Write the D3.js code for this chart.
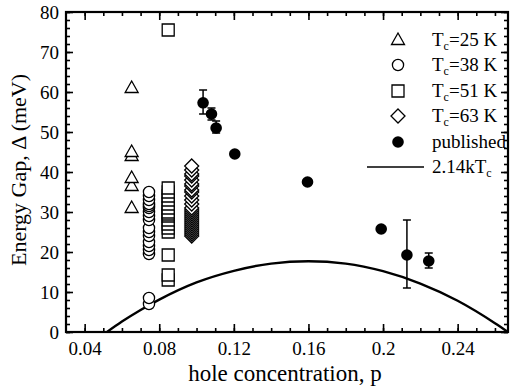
<!DOCTYPE html>
<html>
<head>
<meta charset="utf-8">
<script src="https://cdn.jsdelivr.net/npm/d3@7"></script>
<style>
  body { margin: 0; background: #fff; }
</style>
</head>
<body>
<div id="chart"></div>
<script>
// ---- data ----
const tc25P = 0.0652;
const tc25Gap = [61, 45, 44, 38.5, 36.5, 31];

const tc38P = 0.0745;
const tc38Gap = [35, 34, 33, 32, 31.5, 31, 30, 29, 28, 26, 25, 24, 22.5, 21.5, 20.5, 19.5, 8.5, 7];

const tc51P = 0.0848;
const tc51Gap = [75.5, 36, 35, 34, 33, 32, 31, 30, 29.5, 29, 28, 27, 26, 25, 19.25, 14.25, 13];

const tc63P = 0.0974;
const tc63Gap = [41.5, 40.5, 39.5, 39, 38, 37, 36.5, 35.5, 35, 34, 33, 32, 31, 30.5, 30, 29.5, 29, 28.5,
  28, 27.5, 27, 26.5, 26, 25.5, 25, 24.5, 24];

const pubP = [0.1035, 0.108, 0.1105, 0.1205, 0.1595, 0.199, 0.2128, 0.2245];
const pubGap = [57.3, 54.5, 51, 44.5, 37.5, 25.75, 19.25, 17.75];
const pubErrLo = [54.5, 53, 49.75, null, null, null, 11, 16];
const pubErrHi = [60.5, 56, 52.75, null, null, null, 28, 19.75];

// 2.14 kTc curve
const curveP = [0.052, 0.06, 0.07, 0.08, 0.1, 0.12, 0.14, 0.16, 0.18, 0.2, 0.22, 0.24, 0.26, 0.267];
const curveGap = [0, 2.6, 5.5, 8.1, 12.4, 15.3, 17.1, 17.7, 17.1, 15.2, 12.1, 7.8, 2.2, 0];

const xMajor = [0.04, 0.08, 0.12, 0.16, 0.2, 0.24];
const xTickLabels = ["0.04", "0.08", "0.12", "0.16", "0.2", "0.24"];
const xMinor = d3.range(4, 27).map((d) => d / 100);
const yMajor = [0, 10, 20, 30, 40, 50, 60, 70, 80];
const yMinor = d3.range(0, 81, 2);

const legendLabels = ["=25 K", "=38 K", "=51 K", "=63 K", "published", "2.14kT"];

// ---- layout ----
const W = 514, H = 388;
const margin = { top: 12, right: 6, bottom: 56, left: 66 };
const width = W - margin.left - margin.right;
const height = H - margin.top - margin.bottom;
const serif = '"Liberation Serif", "Times New Roman", serif';

const svg = d3.select("#chart").append("svg").attr("width", W).attr("height", H);
const g = svg.append("g").attr("transform", `translate(${margin.left},${margin.top})`);

const x = d3.scaleLinear().domain([0.03, 0.267]).range([0, width]);
const y = d3.scaleLinear().domain([0, 80]).range([height, 0]);

// axes (ticks pointing inward)
function styleAxis(sel) {
  sel.attr("font-family", serif);
  sel.select(".domain").remove();
  sel.selectAll("line").attr("stroke", "#000").attr("stroke-width", 1.6);
  sel.selectAll("text").attr("fill", "#000").style("font-family", serif).style("font-size", "19px");
}
g.append("g").attr("transform", `translate(0,${height})`)
  .call(d3.axisBottom(x).tickValues(xMinor).tickSize(-4).tickFormat("")).call(styleAxis);
g.append("g").attr("transform", `translate(0,${height})`)
  .call(d3.axisBottom(x).tickValues(xMajor).tickSize(-8).tickPadding(10)
    .tickFormat((d, i) => xTickLabels[i]))
  .call(styleAxis);
g.append("g").call(d3.axisTop(x).tickValues(xMinor).tickSize(-4).tickFormat("")).call(styleAxis);
g.append("g").call(d3.axisTop(x).tickValues(xMajor).tickSize(-8).tickFormat("")).call(styleAxis);

g.append("g").call(d3.axisLeft(y).tickValues(yMinor).tickSize(-4).tickFormat("")).call(styleAxis);
g.append("g").call(d3.axisLeft(y).tickValues(yMajor).tickSize(-7).tickPadding(7).tickFormat(d3.format("d")))
  .call(styleAxis);
g.append("g").attr("transform", `translate(${width},0)`)
  .call(d3.axisRight(y).tickValues(yMinor).tickSize(-4).tickFormat("")).call(styleAxis);
g.append("g").attr("transform", `translate(${width},0)`)
  .call(d3.axisRight(y).tickValues(yMajor).tickSize(-7).tickFormat("")).call(styleAxis);

g.append("rect").attr("width", width).attr("height", height)
  .attr("fill", "none").attr("stroke", "#000").attr("stroke-width", 2.2);

// curve
g.append("path")
  .datum(curveP.map((p, i) => [p, curveGap[i]]))
  .attr("fill", "none").attr("stroke", "#000").attr("stroke-width", 2.4)
  .attr("d", d3.line().curve(d3.curveMonotoneX).x((d) => x(d[0])).y((d) => y(d[1])));

// open-marker stacks: draw lowest first so upper markers sit on top
const triPath = "M0,-7L6.5,4.5L-6.5,4.5Z";
const sqPath = "M-6,-6H6V6H-6Z";
const diaPath = "M0,-7L7,0L0,7L-7,0Z";
const circPath = d3.symbol(d3.symbolCircle, Math.PI * 5.6 * 5.6)();

function openStack(p, vals, path) {
  g.append("g").selectAll("path")
    .data(vals.slice().sort((a, b) => a - b))
    .join("path")
    .attr("d", path)
    .attr("transform", (d) => `translate(${x(p)},${y(d)})`)
    .attr("fill", "#fff").attr("stroke", "#000").attr("stroke-width", 1.3);
}
openStack(tc25P, tc25Gap, triPath);
openStack(tc38P, tc38Gap, circPath);
openStack(tc51P, tc51Gap, sqPath);
openStack(tc63P, tc63Gap, diaPath);

// published points with error bars
const pub = pubP.map((p, i) => ({ p, v: pubGap[i], lo: pubErrLo[i], hi: pubErrHi[i] }));
const eb = g.append("g").attr("stroke", "#000").attr("stroke-width", 1.5);
pub.filter((d) => d.lo !== null).forEach((d) => {
  eb.append("line").attr("x1", x(d.p)).attr("x2", x(d.p)).attr("y1", y(d.lo)).attr("y2", y(d.hi));
  eb.append("line").attr("x1", x(d.p) - 4).attr("x2", x(d.p) + 4).attr("y1", y(d.lo)).attr("y2", y(d.lo));
  eb.append("line").attr("x1", x(d.p) - 4).attr("x2", x(d.p) + 4).attr("y1", y(d.hi)).attr("y2", y(d.hi));
});
g.append("g").selectAll("circle").data(pub).join("circle")
  .attr("cx", (d) => x(d.p)).attr("cy", (d) => y(d.v)).attr("r", 5.8).attr("fill", "#000");

// legend
const legRows = [40, 65, 91, 116, 142, 167];
const legSymX = 398, legTextX = 432;
const legShapes = [triPath, circPath, sqPath, diaPath];
legShapes.forEach((s, i) => {
  svg.append("path").attr("d", s).attr("transform", `translate(${legSymX},${legRows[i]})`)
    .attr("fill", "#fff").attr("stroke", "#000").attr("stroke-width", 1.3);
});
svg.append("circle").attr("cx", legSymX).attr("cy", legRows[4]).attr("r", 5.8).attr("fill", "#000");
svg.append("line").attr("x1", 367).attr("x2", 424).attr("y1", legRows[5]).attr("y2", legRows[5])
  .attr("stroke", "#000").attr("stroke-width", 1.5);

legendLabels.forEach((lab, i) => {
  const t = svg.append("text").attr("x", legTextX).attr("y", legRows[i] + 6)
    .attr("fill", "#000").style("font-family", serif).style("font-size", "19px");
  if (i < 4) {
    t.append("tspan").text("T");
    t.append("tspan").attr("dy", 4).style("font-size", "12px").text("c");
    t.append("tspan").attr("dy", -4).text(lab);
  } else if (i === 5) {
    t.append("tspan").text(lab);
    t.append("tspan").attr("dy", 4).style("font-size", "12px").text("c");
  } else {
    t.text(lab);
  }
});

// axis titles
svg.append("text").attr("x", margin.left + width / 2 - 2).attr("y", 381)
  .attr("text-anchor", "middle").attr("fill", "#000")
  .style("font-family", serif).style("font-size", "23px").text("hole concentration, p");
svg.append("text").attr("transform", `translate(26,170) rotate(-90)`)
  .attr("text-anchor", "middle").attr("fill", "#000")
  .style("font-family", serif).style("font-size", "22px").text("Energy Gap, Δ (meV)");
</script>
</body>
</html>
